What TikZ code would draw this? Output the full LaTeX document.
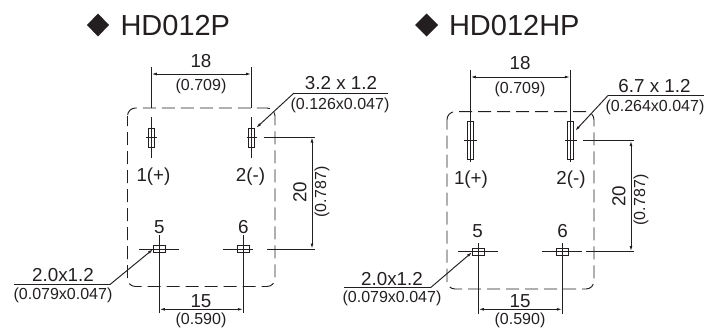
\documentclass[tikz,border=0pt]{standalone}
\usepackage{fontspec}
\setmainfont{Liberation Sans}
\usetikzlibrary{arrows.meta}
\definecolor{ink}{HTML}{231F20}
\tikzset{
  x=1pt,y=-1pt,
  every node/.style={inner sep=0pt,outer sep=0pt,text=ink},
  ln/.style={draw=ink,line width=0.95pt},
  outline/.style={draw=ink,line width=0.95pt,dash pattern=on 13pt off 6pt,dash phase=3pt,rounded corners=8pt},
  dim/.style={ln,{Latex[length=5.5pt,width=2.8pt]}-{Latex[length=5.5pt,width=2.8pt]}},
  lead/.style={ln,-{Latex[length=5.5pt,width=2.8pt]}},
  big/.style={font=\fontsize{18.8}{20}\selectfont},
  small/.style={font=\fontsize{16}{18}\selectfont},
  title/.style={font=\fontsize{29}{32}\selectfont},
  pin/.style={draw=ink,line width=0.8pt},
}
\begin{document}
\begin{tikzpicture}
\useasboundingbox (0,0) rectangle (718,327);
% ---------- left
\fill[ink] (87,25) -- (98,13.5) -- (109,25) -- (98,36.5) -- cycle;
\node[title,anchor=base west] (t1) at (120.5,35) {HD012P};
\draw[outline] (127.5,108) rectangle (275,286.5);
\draw[ln] (151.3,67) -- (151.3,108); \draw[ln] (251.5,67) -- (251.5,108);
\draw[ln] (151.3,117) -- (151.3,158); \draw[ln] (251.5,117) -- (251.5,158);
\draw[dim] (151.3,74) -- (251.5,74);
\node[big] (d18a) at (201,61) {18};
\node[small] (d18ai) at (201,86) {(0.709)};
\draw[pin] (148.2,128) rectangle (154.4,147);
\draw[pin] (248.4,128) rectangle (254.6,147);
\draw[ln] (146,137) -- (157,137); \draw[ln] (246.5,137) -- (257,137);
\node[big] (p1a) at (153.5,176.5) {1(+)};
\node[big] (p2a) at (250.5,176.5) {2(-)};
\node[big] (p5a) at (159.3,227) {5};
\node[big] (p6a) at (243.3,227) {6};
\draw[pin] (153.3,245) rectangle (165.3,252.3);
\draw[pin] (237.3,245) rectangle (249.5,252.3);
\draw[ln] (159.3,235) -- (159.3,313); \draw[ln] (243.3,235) -- (243.3,313);
\draw[ln] (139,249) -- (179,249); \draw[ln] (223,249) -- (253,249);
\draw[ln] (267,249) -- (315,249); \draw[ln] (264,137) -- (315,137);
\draw[dim] (312,137) -- (312,249);
\node[big,rotate=90] (d20a) at (300,192) {20};
\node[small,rotate=90] (d20ai) at (322,192) {(0.787)};
\draw[dim] (159.3,309.3) -- (243.3,309.3);
\node[big] (d15a) at (201,301) {15};
\node[small] (d15ai) at (201,320) {(0.590)};
\draw[ln] (388,93) -- (294,93);
\draw[lead] (294,93) -- (256,128);
\node[big] (l1a) at (341,83) {3.2 x 1.2};
\node[small] (l1ai) at (340,105) {(0.126x0.047)};
\draw[ln] (14,284.5) -- (110,284.5);
\draw[lead] (110,284.5) -- (153.3,249);
\node[big] (l2a) at (63,275.5) {2.0x1.2};
\node[small] (l2ai) at (63,295) {(0.079x0.047)};
% ---------- right
\fill[ink] (415,25) -- (426.5,13.5) -- (438,25) -- (426.5,36.5) -- cycle;
\node[title,anchor=base west] (t2) at (449,35) {HD012HP};
\draw[outline] (447,111.7) rectangle (594,289);
\draw[ln] (470.3,70) -- (470.3,117); \draw[ln] (570.3,70) -- (570.3,117);
\draw[dim] (470.3,77) -- (570.3,77);
\node[big] (d18b) at (520,63.5) {18};
\node[small] (d18bi) at (520,89) {(0.709)};
\draw[pin] (467.3,121.5) rectangle (473.5,159.5);
\draw[pin] (567.3,121.5) rectangle (573.5,159.5);
\draw[ln] (470.3,117) -- (470.3,161.5); \draw[ln] (570.3,117) -- (570.3,161.5);
\draw[ln] (464,140.5) -- (477,140.5); \draw[ln] (564.5,140.5) -- (577,140.5);
\node[big] (p1b) at (471,180) {1(+)};
\node[big] (p2b) at (571,180) {2(-)};
\node[big] (p5b) at (477.7,231) {5};
\node[big] (p6b) at (562.7,231) {6};
\draw[pin] (472.3,248.3) rectangle (484.7,255);
\draw[pin] (556.7,248.3) rectangle (568.7,255);
\draw[ln] (478.3,243) -- (478.3,314); \draw[ln] (562.3,243) -- (562.3,314);
\draw[ln] (458,251.5) -- (498,251.5); \draw[ln] (542,251.5) -- (582,251.5);
\draw[ln] (586,251.5) -- (634,251.5); \draw[ln] (583,140.5) -- (634,140.5);
\draw[dim] (631,140.5) -- (631,251.5);
\node[big,rotate=90] (d20b) at (619,196) {20};
\node[small,rotate=90] (d20bi) at (641,200) {(0.787)};
\draw[dim] (478.3,309.3) -- (562.3,309.3);
\node[big] (d15b) at (520,300.7) {15};
\node[small] (d15bi) at (520,320) {(0.590)};
\draw[ln] (704,95.5) -- (608,95.5);
\draw[lead] (608,95.5) -- (575,131);
\node[big] (l1b) at (654.5,86.5) {6.7 x 1.2};
\node[small] (l1bi) at (655,107.5) {(0.264x0.047)};
\draw[ln] (344,287.3) -- (431,287.3);
\draw[lead] (431,287.3) -- (472.3,252);
\node[big] (l2b) at (392,279) {2.0x1.2};
\node[small] (l2bi) at (392,298) {(0.079x0.047)};
\end{tikzpicture}
\end{document}
